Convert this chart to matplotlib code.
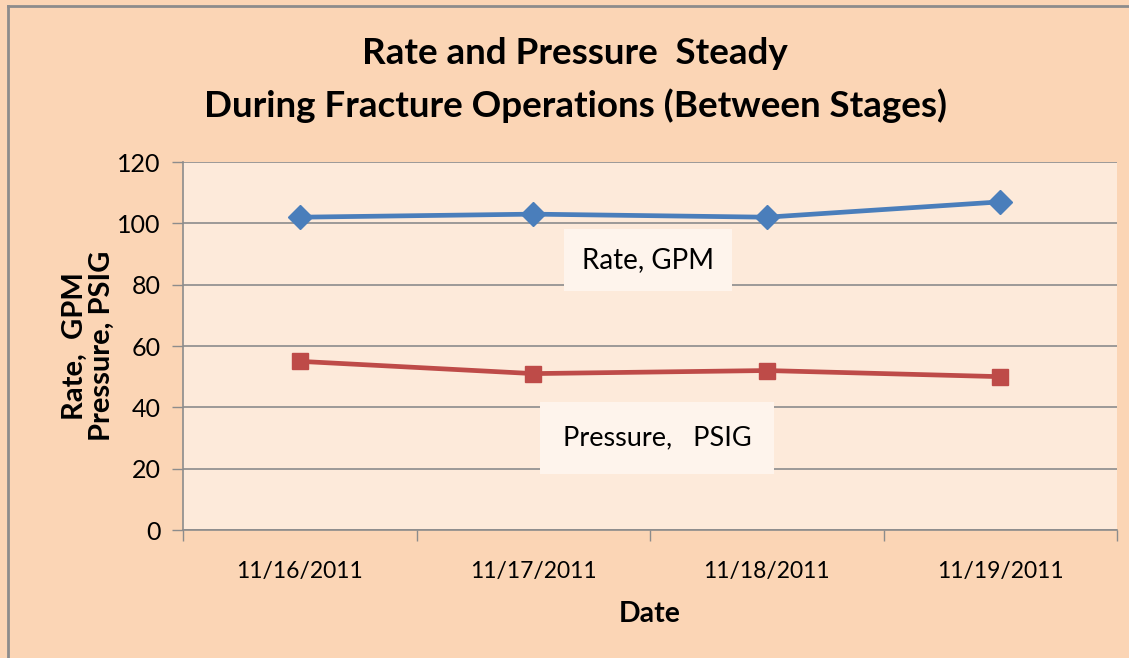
import matplotlib
matplotlib.use("Agg")
import matplotlib.pyplot as plt
from matplotlib.lines import Line2D

plt.rcParams['font.family'] = ['Lato', 'DejaVu Sans']

dates = ["11/16/2011", "11/17/2011", "11/18/2011", "11/19/2011"]
rate_gpm = [102, 103, 102, 107]
pressure_psig = [55, 51, 52, 50]
yticks = [0, 20, 40, 60, 80, 100, 120]

W, H = 1129, 658
fig = plt.figure(figsize=(W / 100, H / 100), dpi=100)
fig.patch.set_facecolor('#FBD5B5')

# outer border (left and top)
fig.add_artist(Line2D([8 / W, 8 / W], [0, 1 - 6 / H], transform=fig.transFigure, color='#8C8C8C', lw=2))
fig.add_artist(Line2D([8 / W, 1], [1 - 6 / H, 1 - 6 / H], transform=fig.transFigure, color='#8C8C8C', lw=2))

left, right, top, bottom = 183, 1117, 162, 530
ax = fig.add_axes([left / W, 1 - bottom / H, (right - left) / W, (bottom - top) / H])
ax.set_facecolor('#FDEADA')

x = list(range(len(dates)))
ax.plot(x, rate_gpm, color='#4A7EBB', lw=3.4, marker='D', markersize=12, zorder=3)
ax.plot(x, pressure_psig, color='#BE4B48', lw=3.4, marker='s', markersize=12, zorder=3)

ax.set_xlim(-0.5, len(dates) - 0.5)
ax.set_ylim(0, 120)
ax.set_yticks(yticks)
ax.set_yticklabels([str(v) for v in yticks], fontsize=18)
ax.set_xticks(x)
ax.set_xticklabels(dates, fontsize=16.5)
ax.set_xticks([i - 0.5 for i in range(len(dates) + 1)], minor=True)
ax.tick_params(axis='x', which='major', length=0, pad=22)
ax.tick_params(axis='x', which='minor', length=8, color='#8C8C8C', width=1)
ax.tick_params(axis='y', length=8, color='#8C8C8C', width=1, pad=8)
ax.grid(axis='y', color='#8C8C8C', lw=1.2, zorder=1)
ax.set_axisbelow(True)
for s in ['top', 'right']:
    ax.spines[s].set_visible(False)
for s in ['left', 'bottom']:
    ax.spines[s].set_color('#8C8C8C')
    ax.spines[s].set_linewidth(1.2)

ax.set_xlabel('Date', fontsize=20.5, fontweight='bold', labelpad=14)
ax.set_ylabel('Rate,  GPM\nPressure, PSIG', fontsize=21, fontweight='bold', labelpad=2, linespacing=1.05)

ax.text(1.49, 88, 'Rate, GPM', fontsize=20, ha='center', va='center', zorder=4,
        bbox=dict(boxstyle='square,pad=0.65', fc='#FEF4EC', ec='none'))
ax.text(1.53, 30, 'Pressure,   PSIG', fontsize=19.5, ha='center', va='center', zorder=4,
        bbox=dict(boxstyle='square,pad=0.85', fc='#FEF4EC', ec='none'))

fig.text(575 / W, 1 - 53 / H, 'Rate and Pressure  Steady', fontsize=26.5, fontweight='bold', ha='center', va='center')
fig.text(575 / W, 1 - 106 / H, 'During Fracture Operations (Between Stages)', fontsize=26.5, fontweight='bold', ha='center', va='center')

fig.savefig('out.png', dpi=100, facecolor=fig.get_facecolor())
